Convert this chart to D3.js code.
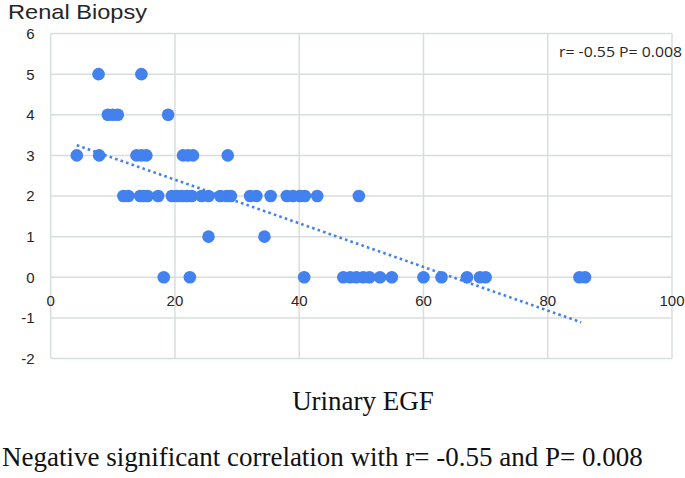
<!DOCTYPE html>
<html><head><meta charset="utf-8">
<script src="https://cdn.jsdelivr.net/npm/d3@7"></script>
<style>
html,body{margin:0;padding:0;background:#fff;}
svg{display:block;}
</style></head>
<body>
<script>
// ---- data ----
const egf5 = [7.7, 14.6];
const egf4 = [9.2, 10.0, 10.8, 18.9];
const egf3 = [4.2, 7.8, 13.8, 14.6, 15.4, 21.3, 22.1, 22.9, 28.5];
const egf2 = [11.7, 12.5, 14.4, 15.0, 15.6, 17.3, 19.5, 20.3, 21.1, 21.9, 22.7, 24.3, 25.4, 27.3, 28.3, 29.0, 32.1, 33.1, 35.4, 38.0, 39.0, 40.1, 40.9, 42.9, 49.6];
const egf1 = [25.4, 34.4];
const egf0 = [18.2, 22.4, 40.8, 47.1, 48.2, 49.2, 50.3, 51.3, 53.0, 54.9, 60.0, 62.9, 67.0, 69.1, 70.0, 85.1, 86.0];
const biopsyLevels = [5, 4, 3, 2, 1, 0];
const trendX = [4.2, 85.4];
const trendY = [3.25, -1.11];
const xTicks = [0, 20, 40, 60, 80, 100];
const yTicks = [-2, -1, 0, 1, 2, 3, 4, 5, 6];
const chartTitle = "Renal Biopsy";
const xTitle = "Urinary EGF";
const statText = "r= -0.55  P= 0.008";
const caption = "Negative significant correlation with r= -0.55 and P= 0.008";

const groups = [egf5, egf4, egf3, egf2, egf1, egf0];
const points = [];
groups.forEach((g, i) => g.forEach(x => points.push({x, y: biopsyLevels[i]})));

const W = 685, H = 478;
const svg = d3.select("body").append("svg").attr("width", W).attr("height", H);
const x = d3.scaleLinear().domain([0, 100]).range([50.7, 672]);
const y = d3.scaleLinear().domain([-2, 6]).range([358.5, 33.5]);
const grid = "#d8dedc", txt = "#262626", blue = "#4281ee";

// grid
svg.append("g").selectAll("line").data(yTicks).join("line")
  .attr("x1", x(0)).attr("x2", x(100)).attr("y1", d => y(d)).attr("y2", d => y(d))
  .attr("stroke", grid).attr("stroke-width", 1.5);
svg.append("g").selectAll("line").data(xTicks).join("line")
  .attr("x1", d => x(d)).attr("x2", d => x(d)).attr("y1", y(6)).attr("y2", y(-2))
  .attr("stroke", grid).attr("stroke-width", 1.5);

// y tick labels
svg.append("g").selectAll("text").data(yTicks).join("text")
  .attr("x", 34.5).attr("y", d => y(d)).attr("dy", "0.36em")
  .attr("text-anchor", "end").attr("font-family", "Liberation Sans, Arial, sans-serif")
  .attr("font-size", 15).attr("fill", txt).text(d => d);
// x tick labels
svg.append("g").selectAll("text").data(xTicks).join("text")
  .attr("x", d => x(d)).attr("y", y(0) + 23.5).attr("dy", "0.36em")
  .attr("text-anchor", "middle").attr("font-family", "Liberation Sans, Arial, sans-serif")
  .attr("font-size", 15).attr("fill", txt).text(d => d);

// points
svg.append("g").selectAll("circle").data(points).join("circle")
  .attr("cx", d => x(d.x)).attr("cy", d => y(d.y)).attr("r", 6.3).attr("fill", blue);

// trend line
const line = d3.line().x(d => x(d[0])).y(d => y(d[1]));
svg.append("path").datum(d3.zip(trendX, trendY)).attr("d", line)
  .attr("fill", "none").attr("stroke", blue).attr("stroke-width", 2.6)
  .attr("stroke-dasharray", "2.6 3.2");

// texts
svg.append("text").attr("x", 8).attr("y", 19)
  .attr("font-family", "Liberation Sans, Arial, sans-serif").attr("font-size", 21)
  .attr("textLength", 139).attr("lengthAdjust", "spacingAndGlyphs")
  .attr("fill", txt).text(chartTitle);
svg.append("text").attr("x", 559).attr("y", 57)
  .attr("font-family", "Open Sans, sans-serif").attr("font-size", 15)
  .attr("textLength", 123).attr("lengthAdjust", "spacingAndGlyphs")
  .attr("fill", txt).text(statText);
svg.append("text").attr("x", 363).attr("y", 410).attr("text-anchor", "middle")
  .attr("font-family", "Liberation Serif, Times New Roman, serif").attr("font-size", 27).attr("fill", "#111").text(xTitle);
svg.append("text").attr("x", 2).attr("y", 466)
  .attr("font-family", "Liberation Serif, Times New Roman, serif").attr("font-size", 27).attr("fill", "#111").text(caption);
</script>
</body></html>
